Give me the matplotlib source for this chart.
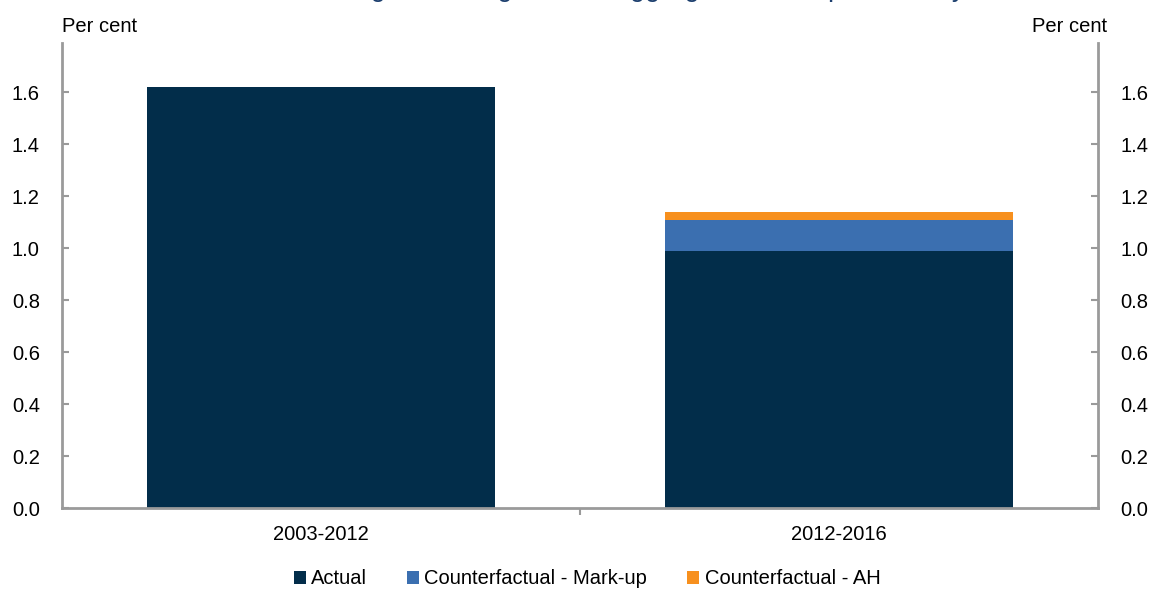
import numpy as np
import matplotlib.pyplot as plt
from matplotlib.ticker import FixedLocator

plt.rcParams['font.family'] = ['Liberation Sans', 'DejaVu Sans']

periods = ['2003-2012', '2012-2016']
actual = [1.62, 0.99]
markup = [0.0, 0.12]
ah = [0.0, 0.03]
yticks = [0.0, 0.2, 0.4, 0.6, 0.8, 1.0, 1.2, 1.4, 1.6]

navy = '#022d4a'
blue = '#3b6fb0'
orange = '#f7901e'
grey = '#9a9a9a'
fs = 14.5

fig = plt.figure(figsize=(11.58, 5.94), dpi=100)
ax = fig.add_axes([62 / 1158, 1 - 508 / 594, 1036 / 1158, 465 / 594])

x = np.arange(len(periods))
w = 0.67
ax.bar(x, actual, width=w, color=navy, label='Actual')
ax.bar(x, markup, width=w, bottom=actual, color=blue, label='Counterfactual - Mark-up')
bottom2 = np.array(actual) + np.array(markup)
ax.bar(x, ah, width=w, bottom=bottom2, color=orange, label='Counterfactual - AH')

ax.set_xlim(-0.5, 1.5)
ax.set_ylim(0, 1.79)
ax.set_yticks(yticks)
ax.set_yticklabels([f'{v:.1f}' for v in yticks])
ax.tick_params(axis='y', direction='in', length=5, width=1.5, color=grey,
               labelsize=fs, pad=16, right=True, labelright=True)

ax.set_xticks(x)
ax.set_xticklabels(periods)
ax.tick_params(axis='x', length=0, labelsize=fs, pad=12)
ax.xaxis.set_minor_locator(FixedLocator([0.5]))
ax.tick_params(axis='x', which='minor', direction='out', length=5, width=1.5, color=grey)

for side in ['left', 'right', 'bottom']:
    ax.spines[side].set_color(grey)
    ax.spines[side].set_linewidth(2)
ax.spines['top'].set_visible(False)

fig.text(100 / 1158, 1 - 27 / 594, 'Per cent', ha='center', va='center', fontsize=fs)
fig.text(1070 / 1158, 1 - 27 / 594, 'Per cent', ha='center', va='center', fontsize=fs)

# title sits mostly above the canvas, as in the source image
fig.text(965 / 1158, 1 + 4 / 594, 'Average annual growth in aggregate labour productivity',
         ha='right', va='baseline', fontsize=19.5, color='#1c3f6e')

handles, labels = ax.get_legend_handles_labels()
fig.legend(handles, labels, loc='center', bbox_to_anchor=(587 / 1158, 1 - 579 / 594),
           ncol=3, frameon=False, fontsize=fs, handlelength=0.6, handleheight=0.6,
           handletextpad=0.25, columnspacing=2.0)

fig.savefig('out.png', dpi=100)
